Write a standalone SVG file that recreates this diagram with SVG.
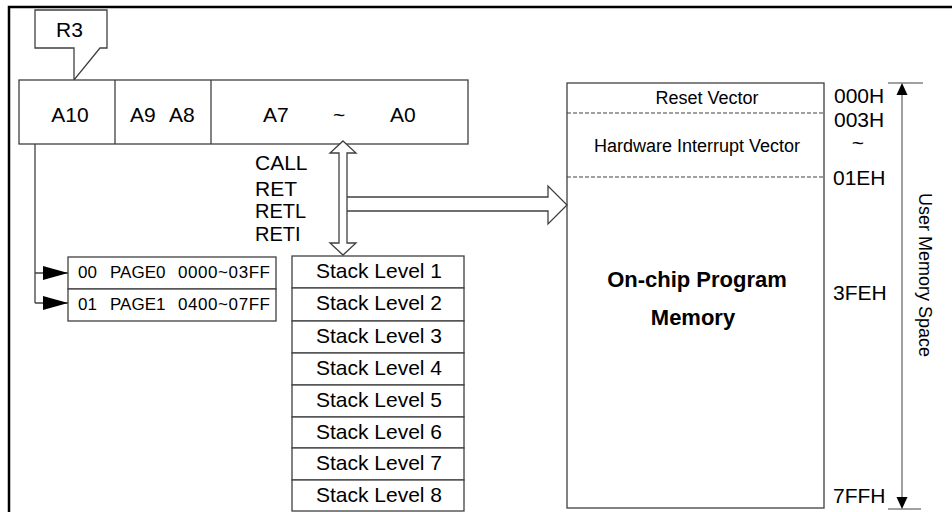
<svg xmlns="http://www.w3.org/2000/svg" width="952" height="512" viewBox="0 0 952 512">
<style>
text{font-family:"Liberation Sans",Arial,sans-serif;fill:#000}
.t21{font-size:21px}
.t20{font-size:20px}
.t17{font-size:17px}
.t18{font-size:18px}
.box{fill:#fff;stroke:#404040;stroke-width:1.3}
.ln{fill:none;stroke:#404040;stroke-width:1.3}
.dash{fill:none;stroke:#404040;stroke-width:1;stroke-dasharray:4 2}
.grey{fill:none;stroke:#808080;stroke-width:1.5}
.mid{text-anchor:middle}
</style>
<defs>
<marker id="ah" viewBox="0 0 25 14" refX="25" refY="7" markerWidth="25" markerHeight="14" markerUnits="userSpaceOnUse" orient="auto">
<path d="M0,0 L25,7 L0,14 Z" fill="#000"/>
</marker>
</defs>
<rect width="952" height="512" fill="#fff"/>
<g id="frame">
<path d="M9,512 V7 H952" fill="none" stroke="#000" stroke-width="2.5"/>
</g>
<g id="r3">
<path class="box" d="M35,10 H107 V48 H100 L74,80 V48 H35 Z"/>
<text class="t21" x="56" y="37">R3</text>
</g>
<g id="register">
<rect class="box" x="19" y="80" width="449" height="64"/>
<line class="ln" x1="115" y1="80" x2="115" y2="144"/>
<line class="ln" x1="211" y1="80" x2="211" y2="144"/>
<text class="t21 mid" x="70" y="122">A10</text>
<text class="t21" y="122"><tspan x="130">A9</tspan><tspan x="169">A8</tspan></text>
<text class="t21" y="122"><tspan x="263">A7</tspan><tspan x="333">~</tspan><tspan x="390">A0</tspan></text>
</g>
<g id="pages">
<rect class="box" x="68" y="257" width="208" height="32"/>
<rect class="box" x="68" y="289" width="208" height="32"/>
<text class="t17" y="278"><tspan x="78">00</tspan><tspan x="110">PAGE0</tspan><tspan x="178" textLength="92">0000~03FF</tspan></text>
<text class="t17" y="310"><tspan x="78">01</tspan><tspan x="110">PAGE1</tspan><tspan x="178" textLength="92">0400~07FF</tspan></text>
</g>
<g id="instr">
<text class="t21" x="255" y="170">CALL</text>
<text class="t21" x="255" y="196">RET</text>
<text class="t20" x="255" y="218">RETL</text>
<text class="t20" x="255" y="241">RETI</text>
</g>
<g id="stack">
<rect class="box" x="292" y="256" width="172" height="32"/>
<rect class="box" x="292" y="288" width="172" height="33"/>
<rect class="box" x="292" y="321" width="172" height="32"/>
<rect class="box" x="292" y="353" width="172" height="32"/>
<rect class="box" x="292" y="385" width="172" height="32"/>
<rect class="box" x="292" y="417" width="172" height="31"/>
<rect class="box" x="292" y="448" width="172" height="32"/>
<rect class="box" x="292" y="480" width="172" height="31"/>
<text class="t21 mid" x="379" y="278">Stack Level 1</text>
<text class="t21 mid" x="379" y="310">Stack Level 2</text>
<text class="t21 mid" x="379" y="343">Stack Level 3</text>
<text class="t21 mid" x="379" y="375">Stack Level 4</text>
<text class="t21 mid" x="379" y="407">Stack Level 5</text>
<text class="t21 mid" x="379" y="439">Stack Level 6</text>
<text class="t21 mid" x="379" y="470">Stack Level 7</text>
<text class="t21 mid" x="379" y="502">Stack Level 8</text>
</g>
<g id="memory">
<rect class="box" x="567" y="83" width="257" height="425"/>
<line class="dash" x1="567" y1="113" x2="824" y2="113"/>
<line class="dash" x1="567" y1="177" x2="824" y2="177"/>
<text class="t18 mid" x="707" y="104">Reset Vector</text>
<text class="t18 mid" x="697" y="152">Hardware Interrupt Vector</text>
<text class="mid" x="697" y="287" style="font-size:22px;font-weight:bold">On-chip Program</text>
<text class="mid" x="693" y="325" style="font-size:22px;font-weight:bold">Memory</text>
</g>
<g id="addresses">
<text class="t21" x="834" y="103">000H</text>
<text class="t21" x="834" y="127">003H</text>
<text class="t21 mid" x="858" y="150">~</text>
<text class="t21" x="833" y="185">01EH</text>
<text class="t21" x="833" y="300">3FEH</text>
<text class="t21" x="833" y="503">7FFH</text>
</g>
<g id="space">
<line class="grey" x1="888" y1="83" x2="923" y2="83"/>
<line class="grey" x1="888" y1="509" x2="921" y2="509"/>
<line class="grey" x1="902" y1="92" x2="902" y2="500"/>
<path d="M902,83 L907.5,95 L896.5,95 Z" fill="#000"/>
<path d="M902,509 L907.5,497 L896.5,497 Z" fill="#000"/>
<text class="t18 mid" transform="translate(919,275) rotate(90)">User Memory Space</text>
</g>
<g id="connectors">
<path class="ln" d="M35,144 V303"/>
<path class="ln" d="M35,273 H68" marker-end="url(#ah)"/>
<path class="ln" d="M35,303 H68" marker-end="url(#ah)"/>
<path class="box" d="M347,197 H548 V186 L567,205 L548,224 V211 H347"/>
<path class="box" d="M343,141 L356,153 H347 V243 H356 L343,255 L330,243 H339 V153 H330 Z"/>
</g>
</svg>
